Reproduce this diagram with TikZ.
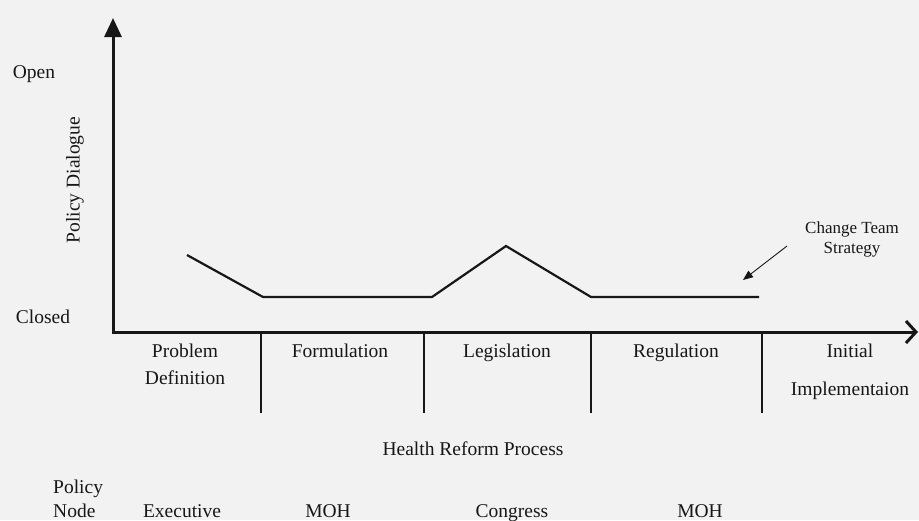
\documentclass[tikz,border=0pt]{standalone}
\usepackage{fontspec}
\setmainfont{Liberation Serif}
\usetikzlibrary{arrows.meta}
\definecolor{ink}{HTML}{171717}
\definecolor{paper}{HTML}{F2F2F2}
\begin{document}
\begin{tikzpicture}[x=1pt,y=-1pt,
  lbl/.style={font=\fontsize{19.5}{23}\selectfont, text=ink, inner sep=0pt, anchor=base},
  note/.style={font=\fontsize{17}{20}\selectfont, text=ink, inner sep=0pt, anchor=base},
  axis/.style={line width=3pt, draw=ink, line cap=rect},
  trend/.style={line width=2.2pt, draw=ink, line join=miter},
  divider/.style={line width=2.6pt, draw=ink},
  pointer/.style={line width=0.9pt, draw=ink, -{Triangle[length=10pt,width=8pt]}}]
% page
\fill[paper] (0,0) rectangle (919,520);
\useasboundingbox (0,0) rectangle (919,520);

% axes
\coordinate (O) at (113,332);
\coordinate (ytop) at (113,18);
\coordinate (xend) at (918,332);
\draw[axis, -{Triangle[length=19pt,width=17pt]}] (O) -- (ytop);
\draw[axis, -{Straight Barb[length=10pt,width=22pt]}] (O) -- (xend);

% axis labels
\node[lbl] (open) at (34,78) {Open};
\node[lbl] (closed) at (43,323) {Closed};
\node[lbl, rotate=90, anchor=center] (dialogue) at (75,180) {Policy Dialogue};

% dialogue level along the process
\coordinate (p1) at (187,255);
\coordinate (p2) at (263,297);
\coordinate (p3) at (432,297);
\coordinate (p4) at (506,246);
\coordinate (p5) at (591,297);
\coordinate (p6) at (759,297);
\draw[trend] (p1) -- (p2) -- (p3) -- (p4) -- (p5) -- (p6);

% change team strategy note
\node[note] (team) at (852,233) {Change Team};
\node[note] (strategy) at (852,253) {Strategy};
\coordinate (ptail) at (787,246);
\coordinate (phead) at (743,280);
\draw[pointer] (ptail) -- (phead);

% stage dividers
\foreach \i/\x in {1/261,2/424,3/591,4/762}{
  \coordinate (dtop\i) at (\x,332);
  \coordinate (dbot\i) at (\x,413);
  \draw[divider] (dtop\i) -- (dbot\i);
}

% stages
\node[lbl] (problem) at (185,357) {Problem};
\node[lbl] (definition) at (185,384) {Definition};
\node[lbl] (formulation) at (340,357) {Formulation};
\node[lbl] (legislation) at (507,357) {Legislation};
\node[lbl] (regulation) at (676,357) {Regulation};
\node[lbl] (initial) at (850,357) {Initial};
\node[lbl] (implementation) at (850,395) {Implementaion};

\node[lbl] (process) at (473,455) {Health Reform Process};

% policy nodes
\node[lbl, anchor=base west] (policy) at (53,493) {Policy};
\node[lbl, anchor=base west] (pnode) at (53,517) {Node};
\node[lbl] (exec) at (182,517) {Executive};
\node[lbl] (moh1) at (328,517) {MOH};
\node[lbl] (congress) at (512,517) {Congress};
\node[lbl] (moh2) at (700,517) {MOH};
\end{tikzpicture}
\end{document}
